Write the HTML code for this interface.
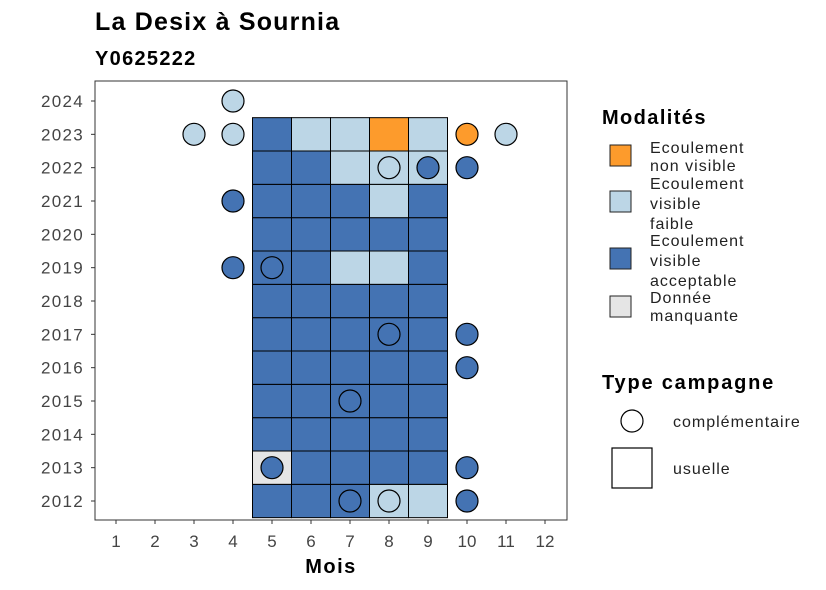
<!DOCTYPE html>
<html><head><meta charset="utf-8">
<style>
html,body{margin:0;padding:0;background:#fff;}
svg{display:block;font-family:"Liberation Sans",sans-serif;}
.lg{font-size:16px;letter-spacing:1px;fill:#222;}
</style></head>
<body>
<svg id="chart" width="826" height="590" viewBox="0 0 826 590">
<text x="95" y="30" font-size="25" font-weight="bold" letter-spacing="1.2" fill="#000">La Desix à Sournia</text>
<text x="95" y="65" font-size="20" font-weight="bold" letter-spacing="1.3" fill="#000">Y0625222</text>
<rect x="95" y="81" width="472" height="439" fill="#fff" stroke="#333" stroke-width="1"/>
<g id="tiles"></g>
<g id="points"></g>
<g id="axes"></g>
<text x="331" y="573" font-size="20" font-weight="bold" letter-spacing="1.5" text-anchor="middle">Mois</text>
<g>
<text x="602" y="124" font-size="20" font-weight="bold" letter-spacing="1.4">Modalités</text>
<g><rect x="610" y="145" width="21" height="21" fill="#fd9b2c" stroke="#222"/><text class="lg"><tspan x="650" y="153">Ecoulement</tspan><tspan x="650" y="171">non visible</tspan></text></g>
<g><rect x="610" y="191" width="21" height="21" fill="#bcd6e6" stroke="#222"/><text class="lg"><tspan x="650" y="189">Ecoulement</tspan><tspan x="650" y="209">visible</tspan><tspan x="650" y="229">faible</tspan></text></g>
<g><rect x="610" y="248" width="21" height="21" fill="#4473b3" stroke="#222"/><text class="lg"><tspan x="650" y="246">Ecoulement</tspan><tspan x="650" y="266">visible</tspan><tspan x="650" y="286">acceptable</tspan></text></g>
<g><rect x="610" y="296" width="21" height="21" fill="#e5e5e5" stroke="#222"/><text class="lg"><tspan x="650" y="303">Donnée</tspan><tspan x="650" y="321">manquante</tspan></text></g>
</g>
<g>
<text x="602" y="389" font-size="20" font-weight="bold" letter-spacing="1.8">Type campagne</text>
<g><circle cx="632" cy="421" r="11" fill="#fff" stroke="#000" stroke-width="1.2"/><text x="673" y="427" class="lg" letter-spacing="1.1">complémentaire</text></g>
<g><rect x="612" y="448" width="40" height="40" fill="#fff" stroke="#000" stroke-width="1.2"/><text x="673" y="474" class="lg">usuelle</text></g>
</g>
</svg>
<script>
const months=[1,2,3,4,5,6,7,8,9,10,11,12];
const years=[2012,2013,2014,2015,2016,2017,2018,2019,2020,2021,2022,2023,2024];
// D=acceptable, L=faible, O=non visible, M=manquante
const tileMonths=[5,6,7,8,9];
const tileRows={
2023:["D","L","L","O","L"],
2022:["D","D","L","L","L"],
2021:["D","D","D","L","D"],
2020:["D","D","D","D","D"],
2019:["D","D","L","L","D"],
2018:["D","D","D","D","D"],
2017:["D","D","D","D","D"],
2016:["D","D","D","D","D"],
2015:["D","D","D","D","D"],
2014:["D","D","D","D","D"],
2013:["M","D","D","D","D"],
2012:["D","D","D","L","L"]
};
const pointMonths=[4,3,4,10,11,8,9,10,4,4,5,8,10,10,7,5,10,7,8,10];
const pointYears=[2024,2023,2023,2023,2023,2022,2022,2022,2021,2019,2019,2017,2017,2016,2015,2013,2013,2012,2012,2012];
const pointMods=["L","L","L","O","L","L","D","D","D","D","D","D","D","D","D","D","D","D","L","D"];
const colors={D:"#4473b3",L:"#bcd6e6",O:"#fd9b2c",M:"#e5e5e5"};
const ns="http://www.w3.org/2000/svg";
const xS=m=>116+(m-1)*39;
const yS=y=>501-(y-2012)*(400/12);
const bw=39,bh=400/12;
function mk(t,a,p){const e=document.createElementNS(ns,t);for(const k in a)e.setAttribute(k,a[k]);p.appendChild(e);return e;}
const tg=document.getElementById('tiles');
for(const yr in tileRows){tileRows[yr].forEach((m,i)=>{
 const r=mk('rect',{x:xS(tileMonths[i])-bw/2,y:yS(+yr)-bh/2,width:bw,height:bh,fill:colors[m],stroke:"#000","stroke-width":1},tg);
 
 
});}
const pg=document.getElementById('points');
pointMonths.forEach((m,i)=>{
 const c=mk('circle',{cx:xS(m),cy:yS(pointYears[i]),r:11,fill:colors[pointMods[i]],stroke:"#000","stroke-width":1.2},pg);
 
 
});
const ag=document.getElementById('axes');
months.forEach(m=>{
 mk('line',{x1:xS(m),x2:xS(m),y1:520,y2:524,stroke:"#333"},ag);
 const t=mk('text',{x:xS(m),y:547,"font-size":17,fill:"#444","text-anchor":"middle"},ag);t.textContent=m;
 
 
});
years.forEach(y=>{
 mk('line',{x1:91,x2:95,y1:yS(y),y2:yS(y),stroke:"#333"},ag);
 const t=mk('text',{x:84,y:yS(y)+6,"font-size":17,"letter-spacing":1.3,fill:"#444","text-anchor":"end"},ag);t.textContent=y;
 
 
});
</script>
</body></html>
